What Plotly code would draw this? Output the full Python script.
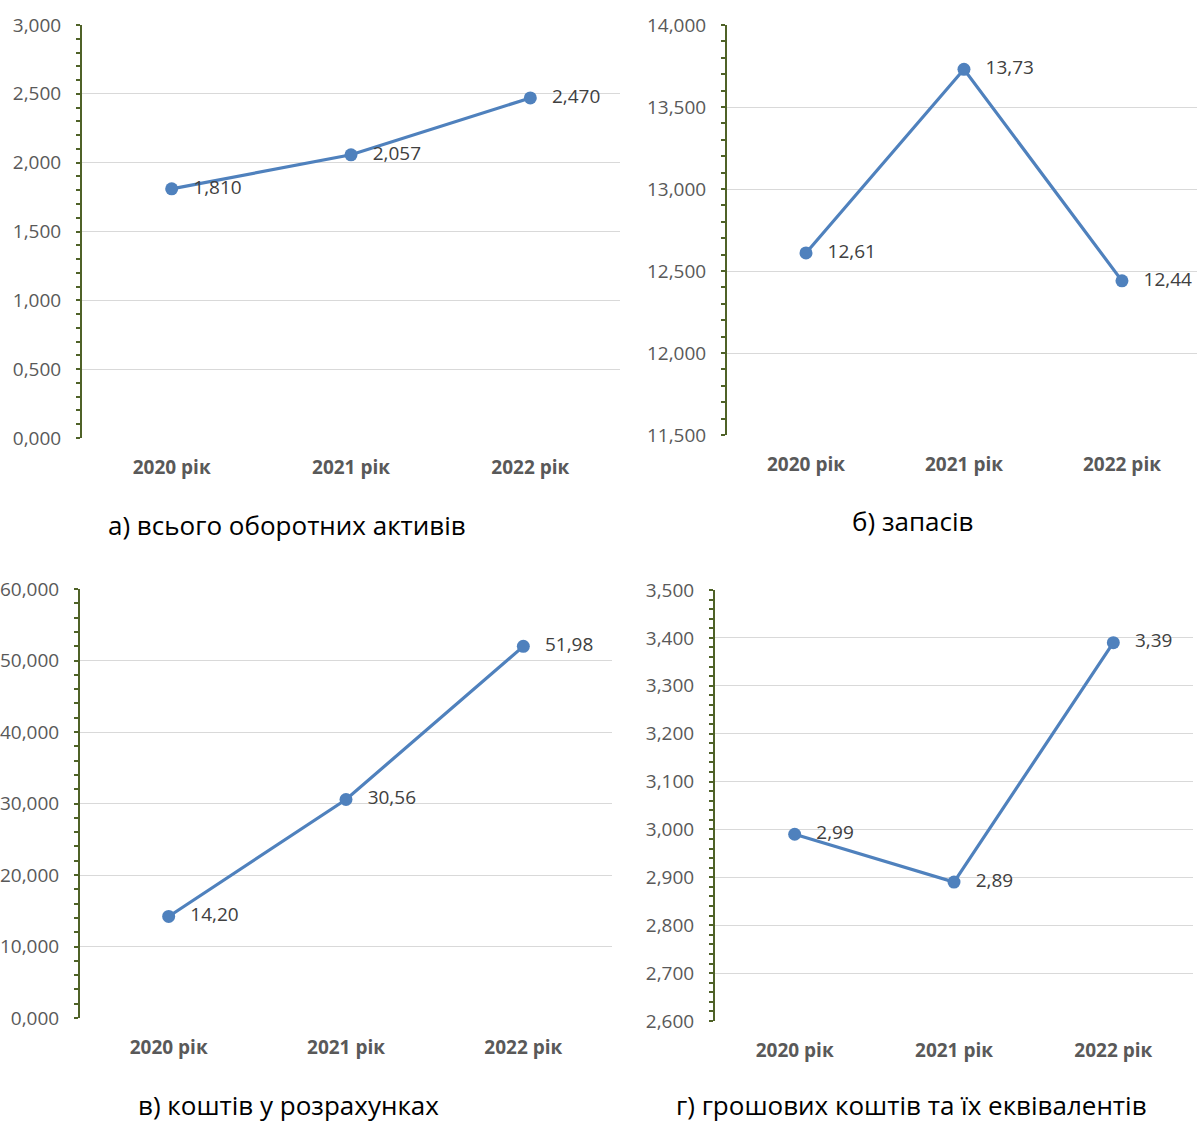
import plotly.graph_objects as go

# Categories and series values for the four panels
years = ["2020 рік", "2021 рік", "2022 рік"]
current_assets = [1.810, 2.057, 2.470]
inventories = [12.61, 13.73, 12.44]
receivables = [14.20, 30.56, 51.98]
cash = [2.99, 2.89, 3.39]

titles = [
    "а) всього оборотних активів",
    "б) запасів",
    "в) коштів у розрахунках",
    "г) грошових коштів та їх еквівалентів",
]

W, H = 1197, 1124
FONT = "Open Sans"
BLUE = "#4F81BD"
AXIS_GREEN = "#4F6228"
GRID = "#D9D9D9"
TICK_TXT = "#595959"

# panel specs: values, label decimals, y range, major step, minor step,
# plot box in pixels (left, right, top, bottom), x-range right end, title position
panels = [
    dict(vals=current_assets, dec=3, yr=[0, 3.0], dt=0.5, mdt=0.1,
         box=(82, 620, 25, 438), xr=2.5, title=(287, 525)),
    dict(vals=inventories, dec=2, yr=[11.5, 14.0], dt=0.5, mdt=0.1,
         box=(727, 1197, 25, 435), xr=2.475, title=(912, 521)),
    dict(vals=receivables, dec=2, yr=[0, 60], dt=10, mdt=2,
         box=(80, 612, 589, 1018), xr=2.5, title=(288, 1105)),
    dict(vals=cash, dec=2, yr=[2.6, 3.5], dt=0.1, mdt=0.02,
         box=(715, 1193, 590, 1021), xr=2.5, title=(911, 1105)),
]


def px_x(x):
    return x / W


def px_y(y):
    return 1 - y / H


fig = go.Figure()
layout = dict(
    width=W, height=H,
    margin=dict(l=0, r=0, t=0, b=0, pad=0, autoexpand=False),
    paper_bgcolor="white", plot_bgcolor="white",
    showlegend=False,
    separators=", ",
    font=dict(family=FONT, color=TICK_TXT),
    annotations=[],
)

for i, p in enumerate(panels):
    n = i + 1
    xa = "x" if n == 1 else f"x{n}"
    ya = "y" if n == 1 else f"y{n}"
    l, r, t, b = p["box"]
    labels = [f"{v:.{p['dec']}f}".replace(".", ",") for v in p["vals"]]

    # the series line with its round markers
    fig.add_trace(go.Scatter(
        x=years, y=p["vals"], xaxis=xa, yaxis=ya,
        mode="lines+markers",
        line=dict(color=BLUE, width=3.2),
        marker=dict(color=BLUE, size=13),
        hoverinfo="skip",
    ))
    # value labels, pushed clear of the markers by a wide transparent marker
    fig.add_trace(go.Scatter(
        x=years, y=p["vals"], xaxis=xa, yaxis=ya,
        mode="markers+text",
        marker=dict(color="rgba(0,0,0,0)", size=33),
        text=labels, textposition="middle right",
        textfont=dict(family=FONT, size=19, color="#404040"),
        cliponaxis=False, hoverinfo="skip",
    ))

    dom_x = [px_x(l), px_x(r)]
    dom_y = [px_y(b), px_y(t)]

    layout[f"xaxis{'' if n == 1 else n}"] = dict(
        domain=dom_x, anchor=ya, type="category",
        range=[-0.5, p["xr"]], automargin=False,
        showgrid=False, showline=False, zeroline=False, ticks="",
        tickfont=dict(family=FONT, size=19, color=TICK_TXT, weight="bold"),
        ticklabelstandoff=16,
    )
    layout[f"yaxis{'' if n == 1 else n}"] = dict(
        domain=dom_y, anchor=xa, range=p["yr"], automargin=False,
        tick0=p["yr"][0], dtick=p["dt"], tickformat=".3f",
        showgrid=True, gridcolor=GRID, gridwidth=1.3,
        zeroline=False,
        showline=True, linecolor=AXIS_GREEN, linewidth=2,
        ticks="outside", ticklen=4, tickwidth=2, tickcolor=AXIS_GREEN,
        minor=dict(ticks="outside", ticklen=4, tickwidth=2,
                   tickcolor=AXIS_GREEN, dtick=p["mdt"], tick0=p["yr"][0],
                   showgrid=False),
        tickfont=dict(family=FONT, size=19, color=TICK_TXT),
        ticklabelstandoff=11,
    )
    # companion axis giving the inward half of the crossing tick marks
    m = n + 4
    layout[f"yaxis{m}"] = dict(
        domain=dom_y, anchor=xa, overlaying=ya, range=p["yr"],
        automargin=False, tick0=p["yr"][0], dtick=p["dt"],
        showgrid=False, zeroline=False, showline=False,
        showticklabels=False,
        ticks="inside", ticklen=4, tickwidth=2, tickcolor=AXIS_GREEN,
        minor=dict(ticks="inside", ticklen=4, tickwidth=2,
                   tickcolor=AXIS_GREEN, dtick=p["mdt"], tick0=p["yr"][0],
                   showgrid=False),
    )
    tx, ty = p["title"]
    layout["annotations"].append(dict(
        text=titles[i], x=px_x(tx), y=px_y(ty), xref="paper", yref="paper",
        xanchor="center", yanchor="middle", showarrow=False,
        font=dict(family=FONT, size=26, color="#000000"),
    ))

fig.update_layout(**layout)
fig.write_html("out.html")
